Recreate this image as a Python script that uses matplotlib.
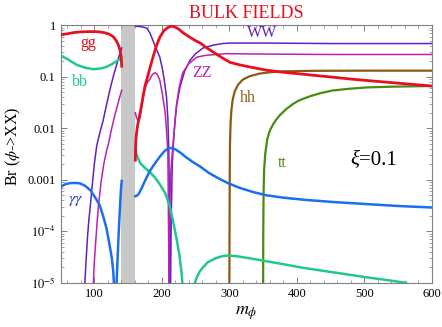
import matplotlib
matplotlib.use("Agg")
import matplotlib.pyplot as plt
from matplotlib.ticker import FixedLocator, FixedFormatter, LogLocator, NullFormatter, MultipleLocator

plt.rcParams['font.family'] = ['Liberation Serif', 'DejaVu Serif']
plt.rcParams['mathtext.fontset'] = 'stix'

# ---- data ----
gg_left_x = [50, 60, 70, 79, 90, 100, 108, 116, 122, 128, 133, 136, 138, 139.5, 140.2, 140.6]
gg_left_y = [0.65, 0.68, 0.72, 0.74, 0.75, 0.75, 0.74, 0.71, 0.67, 0.6, 0.49, 0.4, 0.33, 0.26, 0.2, 0.16]
gg_right_x = [160.8, 161.2, 162, 163.5, 165.5, 168, 172, 175, 179, 182.5, 187, 192, 197, 203, 209, 214,
              219, 225, 231, 240, 250, 257, 267, 280, 290, 301, 315, 330, 355, 380, 400, 430, 453, 480, 510, 550, 600]
gg_right_y = [0.0024, 0.0045, 0.007, 0.01, 0.014, 0.02, 0.04, 0.065, 0.1, 0.15, 0.24, 0.4, 0.58, 0.78, 0.9, 0.96,
              0.93, 0.84, 0.72, 0.6, 0.5, 0.45, 0.36, 0.28, 0.23, 0.19, 0.17, 0.155, 0.134, 0.122, 0.115, 0.105, 0.098, 0.09, 0.083, 0.075, 0.066]

bb_left_x = [50, 60, 74, 86, 98.6, 110, 118, 126, 133, 138, 140.6]
bb_left_y = [0.26, 0.22, 0.17, 0.15, 0.14, 0.145, 0.155, 0.175, 0.2, 0.22, 0.235]
bb_mid_x = [160.8, 163, 168, 175, 182.5, 190, 197, 205, 212, 217, 222, 226, 229, 230.5]
bb_mid_y = [0.0039, 0.003, 0.0021, 0.0017, 0.0014, 0.0011, 0.00082, 0.00055, 0.0003, 0.00015, 0.00007, 0.000035, 0.000017, 0.00001]
bb_right_x = [249, 252, 256, 261, 268, 275, 281, 290, 298, 310, 330, 350, 380, 410, 454, 500, 530, 562]
bb_right_y = [1e-5, 1.3e-5, 1.65e-5, 2e-5, 2.5e-5, 2.8e-5, 3.05e-5, 3.3e-5, 3.4e-5, 3.3e-5, 3e-5, 2.7e-5, 2.3e-5, 1.95e-5, 1.6e-5, 1.3e-5, 1.15e-5, 1e-5]

ww_left_x = [86, 88, 90, 92, 94, 97, 100, 103.5, 108, 113, 118, 123, 128, 133, 137, 140.6]
ww_left_y = [1e-5, 3e-5, 8e-5, 1.7e-4, 3e-4, 8e-4, 0.002, 0.0045, 0.008, 0.014, 0.028, 0.055, 0.1, 0.17, 0.26, 0.36]
ww_right_x = [160.8, 165, 170, 175, 178, 182.5, 187, 192, 197, 201, 204, 207, 209, 210.5, 211.5, 212,
              213, 214, 215.5, 217.5, 219.5, 222, 227, 234, 242, 250, 261, 276, 290, 301, 350, 450, 600]
ww_right_y = [0.95, 0.95, 0.93, 0.9, 0.87, 0.7, 0.5, 0.34, 0.24, 0.14, 0.08, 0.04, 0.015, 0.003, 2e-4, 1e-5,
              1e-5, 2e-4, 0.002, 0.006, 0.014, 0.028, 0.064, 0.13, 0.21, 0.28, 0.36, 0.41, 0.44, 0.45, 0.45, 0.44, 0.44]

zz_left_x = [98.6, 100, 102, 104, 106, 110, 114, 118, 121, 125, 130, 135, 140.6]
zz_left_y = [1e-5, 2.5e-5, 6e-5, 1.4e-4, 3e-4, 9e-4, 0.002, 0.0036, 0.005, 0.009, 0.017, 0.03, 0.055]
zz_right_x = [160.8, 162.5, 165, 167.5, 170, 172.5, 175, 178, 182.5, 186, 190, 193.5, 197, 201, 205, 207, 209, 209.8,
              210.6, 211.5, 213, 215, 217, 219.5, 222, 226, 231, 240, 252, 265, 280, 296, 350, 450, 600]
zz_right_y = [0.02, 0.016, 0.014, 0.016, 0.025, 0.04, 0.06, 0.075, 0.09, 0.11, 0.12, 0.11, 0.086, 0.045, 0.02, 0.009, 0.0033, 2e-4,
              1e-5, 2e-4, 0.0012, 0.0028, 0.0055, 0.013, 0.03, 0.065, 0.12, 0.18, 0.24, 0.26, 0.27, 0.28, 0.275, 0.27, 0.27]

hh_x = [300.1, 300.3, 300.6, 301, 301.8, 303, 305, 308, 313, 320, 330, 345, 360, 380, 420, 500, 600]
hh_y = [1e-5, 1e-4, 0.001, 0.005, 0.012, 0.022, 0.036, 0.052, 0.07, 0.088, 0.102, 0.115, 0.122, 0.127, 0.13, 0.131, 0.131]

tt_x = [350.1, 350.3, 350.8, 351.5, 353, 356, 360, 365, 370, 375, 385, 395, 404, 420, 435, 453, 475, 504, 540, 600]
tt_y = [1e-5, 1e-4, 0.0006, 0.0015, 0.003, 0.006, 0.009, 0.012, 0.015, 0.018, 0.024, 0.03, 0.035, 0.042, 0.048, 0.054, 0.058, 0.062, 0.064, 0.066]

aa_left_x = [50, 57, 64, 72, 79, 86, 94, 101, 108, 113, 118, 122, 126, 128, 129]
aa_left_y = [7.3e-4, 8.2e-4, 8.6e-4, 8.7e-4, 8.5e-4, 7.7e-4, 6.3e-4, 4.6e-4, 3.2e-4, 2.0e-4, 1.15e-4, 6e-5, 3.0e-5, 1.7e-5, 1e-5]
aa_mid_x = [133, 134.5, 135.6, 137, 138.5, 139.6, 140.6]
aa_mid_y = [1e-5, 3e-5, 6.7e-5, 1.6e-4, 3.8e-4, 6.8e-4, 9.5e-4]
aa_right_x = [160.8, 163, 166, 170, 175, 182.5, 190, 197, 204, 210, 214, 220, 227, 235, 245, 257, 270, 285, 298,
              315, 335, 355, 380, 410, 454, 500, 550, 600]
aa_right_y = [4.8e-4, 4.9e-4, 5.4e-4, 6.8e-4, 9.5e-4, 1.5e-3, 2.1e-3, 2.8e-3, 3.6e-3, 4.1e-3, 4.15e-3, 3.9e-3, 3.4e-3, 2.8e-3, 2.25e-3, 1.8e-3, 1.35e-3, 1.05e-3, 8.6e-4,
              7e-4, 5.8e-4, 5e-4, 4.5e-4, 4.1e-4, 3.7e-4, 3.4e-4, 3.1e-4, 2.9e-4]

band = [140, 160]

ytick_vals = [1e-5, 1e-4, 1e-3, 1e-2, 1e-1, 1]
ytick_labels = [r'$10^{-5}$', r'$10^{-4}$', '0.001', '0.01', '0.1', '1']
xtick_vals = [100, 200, 300, 400, 500, 600]

labels = [("gg", 91, 0.45, '#e81020'), ("bb", 79, 0.078, '#20c890'), ("WW", 348, 0.7, '#6020c8'),
          ("ZZ", 259, 0.117, '#c020b0'), ("hh", 328, 0.038, '#8b5a14'), ("tt", 379, 0.0021, '#4a8a10')]

# ---- figure ----
fig = plt.figure(figsize=(4.42, 3.27), dpi=100)
ax = fig.add_axes([0.137, 0.135, 0.840, 0.788])
ax.set_yscale('log')
ax.set_xlim(50, 600)
ax.set_ylim(1e-5, 1)

ax.axvspan(band[0], band[1], color='#c8c8c8', lw=0, zorder=1)

red = '#e81020'; teal = '#20c890'; purple = '#6020c8'; mag = '#c020b0'
brown = '#8b5a14'; green = '#4a8a10'; blue = '#1a6ff0'

ax.plot(gg_left_x, gg_left_y, color=red, lw=2.0, zorder=5)
ax.plot(gg_right_x, gg_right_y, color=red, lw=2.0, zorder=5)
ax.plot(bb_left_x, bb_left_y, color=teal, lw=1.8, zorder=4)
ax.plot(bb_mid_x, bb_mid_y, color=teal, lw=1.8, zorder=4)
ax.plot(bb_right_x, bb_right_y, color=teal, lw=1.8, zorder=4)
ax.plot(ww_left_x, ww_left_y, color=purple, lw=1.1, zorder=3)
ax.plot(ww_right_x, ww_right_y, color=purple, lw=1.1, zorder=3)
ax.plot(zz_left_x, zz_left_y, color=mag, lw=1.1, zorder=3)
ax.plot(zz_right_x, zz_right_y, color=mag, lw=1.1, zorder=3)
ax.plot(hh_x, hh_y, color=brown, lw=1.6, zorder=3)
ax.plot(tt_x, tt_y, color=green, lw=1.6, zorder=3)
ax.plot(aa_left_x, aa_left_y, color=blue, lw=1.8, zorder=4)
ax.plot(aa_mid_x, aa_mid_y, color=blue, lw=1.8, zorder=4)
ax.plot(aa_right_x, aa_right_y, color=blue, lw=1.8, zorder=4)

for txt, x, y, c in labels:
    ax.text(x, y, txt, color=c, fontsize=11.5, ha='center', va='center')
ax.text(73, 4e-4, r'$\gamma\gamma$', color='#1a30e0', fontsize=11.5, ha='center', va='center')
ax.text(492, 0.0024, 'ξ', color='black', fontsize=15, ha='right', va='center', style='italic')
ax.text(492, 0.0024, '=0.1', color='black', fontsize=15, ha='left', va='center')

ax.yaxis.set_major_locator(FixedLocator(ytick_vals))
ax.yaxis.set_major_formatter(FixedFormatter(ytick_labels))
ax.yaxis.set_minor_locator(LogLocator(base=10, subs=range(2, 10)))
ax.yaxis.set_minor_formatter(NullFormatter())
ax.xaxis.set_major_locator(FixedLocator(xtick_vals))
ax.xaxis.set_minor_locator(MultipleLocator(20))

for s in ax.spines.values():
    s.set_color('#808080')
    s.set_linewidth(0.8)
ax.tick_params(which='both', direction='in', top=True, right=True, color='#808080', labelsize=9)
ax.tick_params(which='major', length=4, width=0.7)
ax.tick_params(which='minor', length=2, width=0.5)
ax.tick_params(axis='x', pad=4)

ax.set_xlabel(r'$m_\phi$', fontsize=13, labelpad=3)
ax.set_ylabel(r'Br ($\phi$->XX)', fontsize=11.5, labelpad=1)
ax.yaxis.set_label_coords(-0.1, 0.53)
fig.text(0.558, 0.985, 'BULK FIELDS', color=red, fontsize=13, ha='center', va='top')

fig.savefig('out.png', dpi=100)
